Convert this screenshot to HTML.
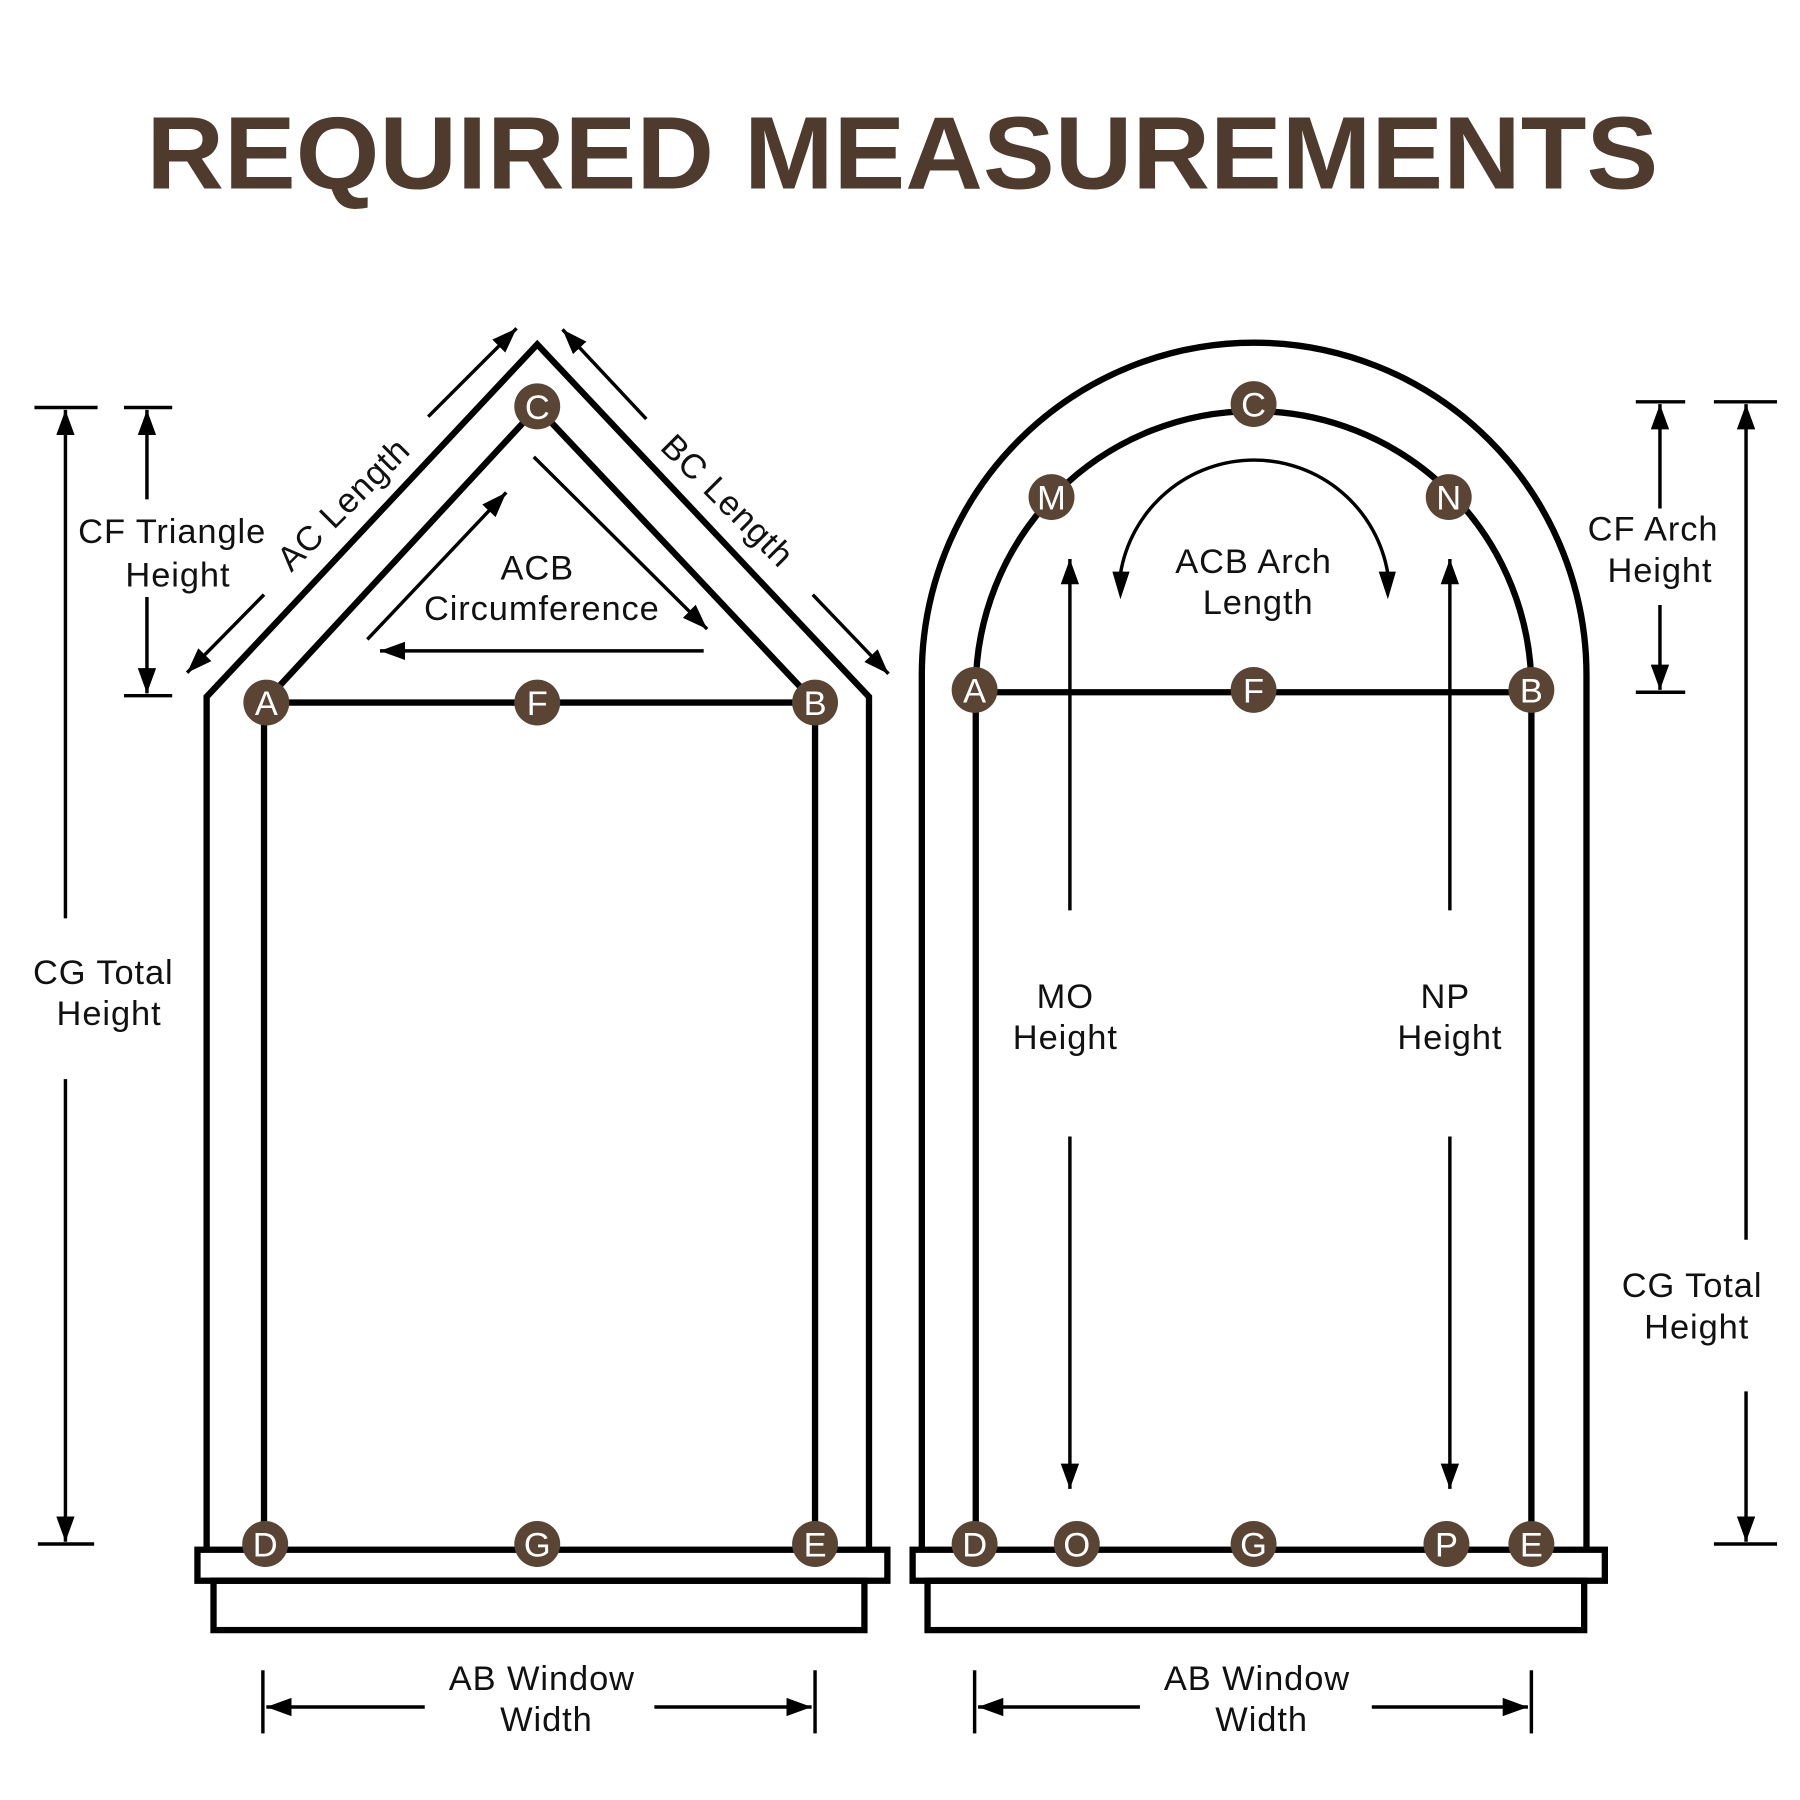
<!DOCTYPE html>
<html><head><meta charset="utf-8"><style>
html,body{margin:0;padding:0;background:#fff;width:1800px;height:1800px;overflow:hidden}
svg{display:block}
text{font-family:"Liberation Sans",sans-serif}
.l{font-size:30px;fill:#111;text-anchor:middle;letter-spacing:0.8px}
.c{fill:#5a4535}
.ct{fill:#fff;font-size:30px;text-anchor:middle}
</style></head><body>
<svg width="1800" height="1800" viewBox="0 0 1568 1568" xmlns="http://www.w3.org/2000/svg">
<defs>
<marker id="ah" markerUnits="userSpaceOnUse" markerWidth="24" markerHeight="16" refX="22" refY="8" orient="auto">
<path d="M0,0 L22,8 L0,16 Z" fill="#000"/></marker>
</defs>
<text x="786" y="164" text-anchor="middle" font-size="90" font-weight="bold" fill="#4f3b2e" textLength="1317" lengthAdjust="spacingAndGlyphs">REQUIRED MEASUREMENTS</text>

<g fill="none" stroke="#000" stroke-width="5.5">
<path d="M180,1350 L180,607 L468,300 L757,607 L757,1350"/>
<path d="M230,1345 L230,612 L468,355 L710,612 L710,1345"/>
<line x1="230" y1="612" x2="710" y2="612"/>
<rect x="172" y="1350" width="601" height="27"/>
<rect x="186" y="1377" width="567" height="43"/>
<path d="M803,1350 L803,588 A289.5,289.5 0 0 1 1382,588 L1382,1350"/>
<path d="M850,1345 L850,600 A242,242 0 0 1 1334,600 L1334,1345"/>
<line x1="850" y1="603" x2="1334" y2="603"/>
<rect x="795" y="1350" width="603" height="27"/>
<rect x="808" y="1377" width="572" height="43"/>
</g>

<g fill="none" stroke="#000" stroke-width="3">
<line x1="30" y1="355" x2="85" y2="355"/><line x1="33" y1="1345" x2="82" y2="1345"/>
<line x1="57" y1="800" x2="57" y2="357" marker-end="url(#ah)"/>
<line x1="57" y1="940" x2="57" y2="1343" marker-end="url(#ah)"/>
<line x1="108" y1="355" x2="150" y2="355"/><line x1="108" y1="606" x2="150" y2="606"/>
<line x1="128" y1="435" x2="128" y2="357" marker-end="url(#ah)"/>
<line x1="128" y1="520" x2="128" y2="604" marker-end="url(#ah)"/>
<line x1="373" y1="363" x2="450" y2="286" marker-end="url(#ah)"/>
<line x1="230" y1="518" x2="163" y2="586" marker-end="url(#ah)"/>
<line x1="563" y1="365" x2="490" y2="287" marker-end="url(#ah)"/>
<line x1="708" y1="518" x2="774" y2="587" marker-end="url(#ah)"/>
<line x1="320" y1="557" x2="441" y2="429" marker-end="url(#ah)"/>
<line x1="465" y1="398" x2="616" y2="548" marker-end="url(#ah)"/>
<line x1="613" y1="567" x2="331" y2="567" marker-end="url(#ah)"/>
<line x1="229" y1="1455" x2="229" y2="1510"/><line x1="710" y1="1455" x2="710" y2="1510"/>
<line x1="370" y1="1487" x2="232" y2="1487" marker-end="url(#ah)"/>
<line x1="570" y1="1487" x2="707" y2="1487" marker-end="url(#ah)"/>
<line x1="849" y1="1455" x2="849" y2="1510"/><line x1="1334" y1="1455" x2="1334" y2="1510"/>
<line x1="993" y1="1487" x2="852" y2="1487" marker-end="url(#ah)"/>
<line x1="1195" y1="1487" x2="1331" y2="1487" marker-end="url(#ah)"/>
<line x1="932" y1="793" x2="932" y2="487" marker-end="url(#ah)"/>
<line x1="932" y1="990" x2="932" y2="1297" marker-end="url(#ah)"/>
<line x1="1263" y1="793" x2="1263" y2="487" marker-end="url(#ah)"/>
<line x1="1263" y1="990" x2="1263" y2="1297" marker-end="url(#ah)"/>
<path d="M976,500 A118,118 0 0 1 1209,500"/>
<line x1="1425" y1="350" x2="1468" y2="350"/><line x1="1425" y1="603" x2="1468" y2="603"/>
<line x1="1446" y1="443" x2="1446" y2="352" marker-end="url(#ah)"/>
<line x1="1446" y1="527" x2="1446" y2="601" marker-end="url(#ah)"/>
<line x1="1493" y1="350" x2="1548" y2="350"/><line x1="1493" y1="1345" x2="1548" y2="1345"/>
<line x1="1521" y1="1080" x2="1521" y2="352" marker-end="url(#ah)"/>
<line x1="1521" y1="1212" x2="1521" y2="1343" marker-end="url(#ah)"/>
</g>
<path d="M969,498 L984,498 L976,522 Z M1201,498 L1216,498 L1209,522 Z" fill="#000"/>

<g class="l">
<text x="90" y="857">CG Total</text><text x="95" y="893">Height</text>
<text x="150" y="473">CF Triangle</text><text x="155" y="511">Height</text>
<text x="300" y="449" transform="rotate(-45 300 440)">AC Length</text>
<text x="633" y="446" transform="rotate(45 633 437)">BC Length</text>
<text x="468" y="505">ACB</text><text x="472" y="540">Circumference</text>
<text x="472" y="1472">AB Window</text><text x="476" y="1508">Width</text>
<text x="1095" y="1472">AB Window</text><text x="1099" y="1508">Width</text>
<text x="928" y="878">MO</text><text x="928" y="914">Height</text>
<text x="1259" y="878">NP</text><text x="1263" y="914">Height</text>
<text x="1092" y="499">ACB Arch</text><text x="1096" y="535">Length</text>
<text x="1440" y="471">CF Arch</text><text x="1446" y="507">Height</text>
<text x="1474" y="1130">CG Total</text><text x="1478" y="1166">Height</text>
</g>

<g>
<circle class="c" cx="232" cy="612" r="20"/><text class="ct" x="232" y="623">A</text>
<circle class="c" cx="468" cy="612" r="20"/><text class="ct" x="468" y="623">F</text>
<circle class="c" cx="710" cy="612" r="20"/><text class="ct" x="710" y="623">B</text>
<circle class="c" cx="468" cy="354" r="20"/><text class="ct" x="468" y="365">C</text>
<circle class="c" cx="231" cy="1345" r="20"/><text class="ct" x="231" y="1356">D</text>
<circle class="c" cx="468" cy="1345" r="20"/><text class="ct" x="468" y="1356">G</text>
<circle class="c" cx="710" cy="1345" r="20"/><text class="ct" x="710" y="1356">E</text>
<circle class="c" cx="1092" cy="352" r="20"/><text class="ct" x="1092" y="363">C</text>
<circle class="c" cx="916" cy="433" r="20"/><text class="ct" x="916" y="444">M</text>
<circle class="c" cx="1262" cy="433" r="20"/><text class="ct" x="1262" y="444">N</text>
<circle class="c" cx="849" cy="601" r="20"/><text class="ct" x="849" y="612">A</text>
<circle class="c" cx="1092" cy="601" r="20"/><text class="ct" x="1092" y="612">F</text>
<circle class="c" cx="1334" cy="601" r="20"/><text class="ct" x="1334" y="612">B</text>
<circle class="c" cx="849" cy="1345" r="20"/><text class="ct" x="849" y="1356">D</text>
<circle class="c" cx="938" cy="1345" r="20"/><text class="ct" x="938" y="1356">O</text>
<circle class="c" cx="1092" cy="1345" r="20"/><text class="ct" x="1092" y="1356">G</text>
<circle class="c" cx="1260" cy="1345" r="20"/><text class="ct" x="1260" y="1356">P</text>
<circle class="c" cx="1334" cy="1345" r="20"/><text class="ct" x="1334" y="1356">E</text>
</g>
</svg>
</body></html>
